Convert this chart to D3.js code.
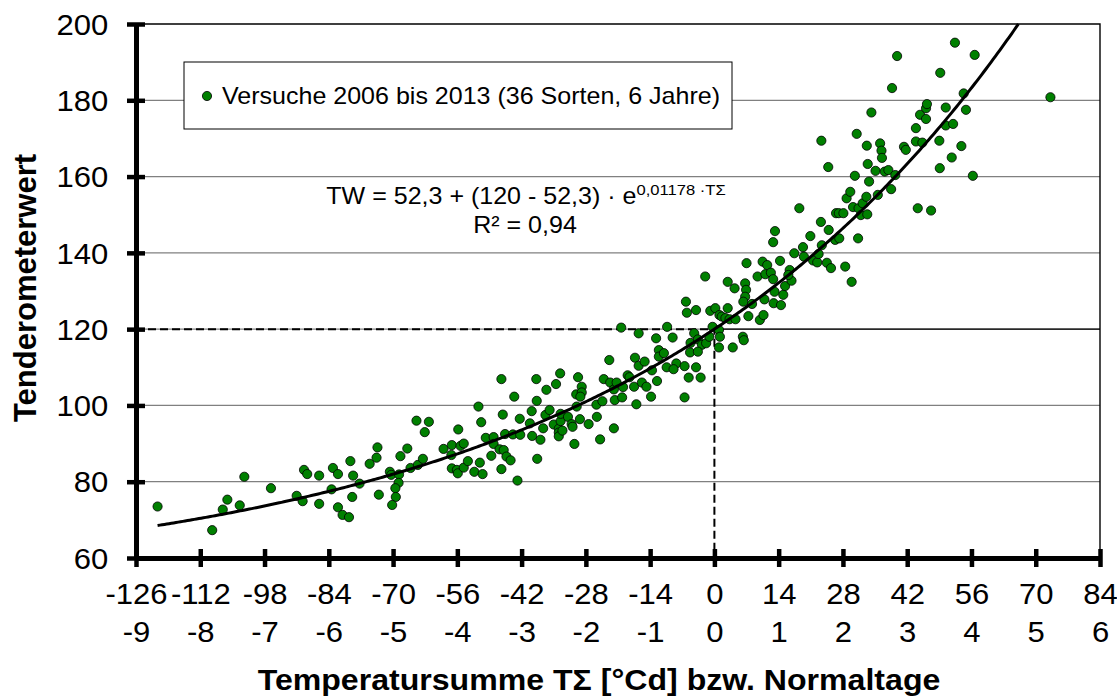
<!DOCTYPE html>
<html>
<head>
<meta charset="utf-8">
<script src="https://cdn.jsdelivr.net/npm/d3@7"></script>
<style>
body{margin:0;background:#fff;}
svg{display:block;font-family:"Liberation Sans",Arial,sans-serif;}
</style>
</head>
<body>
<svg width="1117" height="698"></svg>
<script>
// Temperatursumme TΣ [°Cd] of each trial point
const tempSum = [
 -121.3,-109.4,-107.1,-106.1,-103.4,-102.4,-96.6,-91.0,-89.7,-89.4,-88.7,-86.1,-86.1,-83.1,-82.0,-83.4,-82.0,-81.0,-79.6,-79.3,
 -78.7,-78.9,-77.3,-75.1,-73.6,-73.4,-73.1,-70.7,-70.4,-68.7,-68.8,-69.5,-69.4,-70.2,-68.4,-66.9,-66.2,-64.9,-64.6,
 -63.5,-63.1,-62.2,-59.0,-57.2,-55.8,-55.3,-54.6,-57.2,-57.3,-56.1,-55.9,-54.6,-53.7,-52.3,-51.4,-50.8,-51.1,-50.5,-49.8,
 -48.6,-48.1,-48.1,-46.4,-46.1,-46.8,-45.9,-46.4,-45.3,-44.4,-45.6,-43.6,-42.9,-43.9,-42.3,-42.4,-40.2,-39.8,-39.7,-38.8,
 -38.7,-38.6,-37.9,-37.3,-36.8,-36.6,-35.9,-34.5,-33.6,-35.0,-33.9,-33.9,-33.9,-33.1,-33.5,-33.5,-31.9,-31.1,-30.9,-30.5,
 -30.0,-30.1,-29.7,-29.3,-28.9,-28.9,-29.2,-27.4,-25.7,-25.6,-24.9,-24.4,-24.1,-22.9,-22.7,-21.9,-21.9,-21.7,-21.3,-20.3,
 -20.1,-19.9,-18.9,-18.5,-17.5,-17.3,-17.0,-16.5,-16.5,-15.8,-15.2,-14.8,-13.8,-13.6,-12.7,-12.5,-12.1,-12.1,
 -10.4,-8.3,-8.9,-6.5,-5.6,-4.0,-3.0,-6.5,1.0,
 -10.3,-9.1,-11.0,-6.2,-6.0,-4.0,-2.0,-5.2,-4.4,-3.6,-2.7,-5.3,-3.6,-1.8,-0.9,-0.4,-1.1,0.2,1.0,1.2,
 1.1,1.6,2.9,2.4,3.3,4.6,4.0,2.9,4.4,6.2,6.4,6.7,7.0,6.9,6.7,6.3,7.4,8.2,9.4,10.5,
 11.1,11.5,12.3,12.8,10.9,9.9,10.7,13.1,12.9,14.5,15.0,15.4,14.3,16.4,16.8,16.1,12.8,13.2,17.4,18.5,
 19.3,19.5,20.9,21.5,22.4,22.7,23.4,23.2,24.9,24.5,25.4,26.5,27.1,26.3,27.2,28.5,29.9,28.8,29.6,30.2,
 28.1,31.3,31.4,
 23.3,24.8,30.6,31.0,32.3,31.9,33.1,33.3,33.2,33.4,33.7,34.2,35.1,35.6,36.1,36.4,36.5,37.1,37.9,38.5,
 39.4,38.7,39.8,41.3,41.7,43.9,43.9,44.3,44.8,45.3,46.1,46.1,46.3,47.2,49.1,49.0,49.2,50.4,50.4,51.7,
 52.0,52.4,53.8,54.3,54.8,56.3,56.7,73.2
];
// Tenderometerwert of each trial point (same order)
const tenderometer = [
 73.5,67.3,72.7,75.3,73.8,81.3,78.3,76.3,74.9,83.1,82.0,81.6,74.2,83.6,82.0,78.0,73.3,71.3,70.7,85.4,
 81.6,76.0,79.5,84.7,86.3,89.0,76.6,82.6,81.8,81.9,79.7,78.3,76.0,73.9,86.7,88.7,83.6,96.0,84.4,
 86.0,93.0,95.7,88.6,89.6,93.7,89.4,90.0,83.5,87.0,83.1,82.2,83.7,85.4,82.6,99.7,95.6,85.0,82.0,91.5,
 86.8,91.7,89.9,106.9,97.6,88.5,88.3,83.3,86.6,85.6,92.5,102.3,80.3,92.4,92.3,96.5,95.3,98.5,92.0,106.9,
 101.2,86.0,91.0,94.0,97.5,104.1,98.8,105.6,108.4,95.0,93.9,92.9,91.9,93.4,95.9,97.8,97.0,95.1,94.4,89.9,
 99.7,102.9,107.4,96.4,104.9,103.4,102.3,95.1,100.2,97.0,91.1,101.1,106.9,111.9,106.0,104.2,94.0,101.4,106.0,120.4,
 102.1,104.8,107.9,107.4,104.9,112.5,100.3,110.4,118.9,106.0,111.5,104.9,102.3,109.2,117.6,106.4,114.5,112.8,
 110.0,111.0,109.5,110.3,107.3,110.0,107.3,102.1,115.2,
 120.6,117.8,113.7,127.2,124.3,125.0,133.8,116.4,118.9,117.3,115.9,113.9,114.1,116.3,124.8,120.6,118.0,125.5,119.8,118.0,
 123.7,123.3,125.5,122.9,122.6,122.6,115.2,132.4,130.7,118.0,117.1,132.0,137.3,130.3,128.5,127.2,123.4,126.6,133.8,137.7,
 134.4,136.8,134.8,133.1,127.8,122.4,123.7,129.8,126.8,126.3,129.0,131.3,137.9,135.5,132.7,134.2,142.8,145.7,139.9,151.7,
 141.5,139.0,144.4,138.0,137.5,139.7,142.0,148.1,146.0,137.4,136.0,150.4,150.4,143.4,143.8,136.4,132.4,154.3,156.0,152.0,
 150.4,143.8,151.7,
 169.4,162.5,160.2,171.2,153.0,149.9,154.7,150.1,168.1,163.3,158.7,176.8,161.5,155.2,168.7,166.8,164.9,161.3,161.7,156.7,
 160.4,183.2,191.6,167.8,167.0,169.2,172.7,151.7,176.2,168.9,177.9,175.1,179.0,151.1,162.2,169.4,187.2,178.1,173.4,165.0,
 173.8,195.1,168.0,181.8,177.5,160.2,191.9,180.8
];
const xTickValues = [-126,-112,-98,-84,-70,-56,-42,-28,-14,0,14,28,42,56,70,84];
const dayLabels = ["-9","-8","-7","-6","-5","-4","-3","-2","-1","0","1","2","3","4","5","6"];
const yTickValues = [60,80,100,120,140,160,180,200];
const legendLabel = "Versuche 2006 bis 2013 (36 Sorten, 6 Jahre)";
// fit: TW = 52,3 + (120 - 52,3) * exp(0,01178 * TΣ)
const fitBase = 52.3, fitRef = 120, fitRate = 0.01178, fitStart = -121.3;
const refT = 0, refTW = 120;

const svg = d3.select('svg');
const width = +svg.attr('width');
const height = +svg.attr('height');
const margin = {top:24, right:17, bottom:140, left:136};
const sx = 1.07; // text is a bit wider than tall in the original

const data = tempSum.map((t, i) => ({t: t, tw: tenderometer[i]}));

const xScale = d3.scaleLinear().domain([-126, 84]).range([margin.left, width - margin.right]);
const yScale = d3.scaleLinear().domain([60, 200]).range([height - margin.bottom, margin.top]);
const x0 = xScale.range()[0], x1 = xScale.range()[1];
const yTop = yScale.range()[1], yBot = yScale.range()[0];

// gridlines
svg.append('g').selectAll('line').data(yTickValues.filter(v => v > 60 && v < 200))
  .enter().append('line')
  .attr('x1', x0).attr('x2', x1)
  .attr('y1', d => yScale(d)).attr('y2', d => yScale(d))
  .attr('stroke', '#808080').attr('stroke-width', 1.2);

// plot frame top/right
svg.append('path')
  .attr('d', `M${x0},${yTop}H${x1}V${yBot}`)
  .attr('fill', 'none').attr('stroke', '#000').attr('stroke-width', 1.4);

// reference lines at 120 / 0
svg.append('line')
  .attr('x1', xScale(refT)).attr('x2', x1)
  .attr('y1', yScale(refTW)).attr('y2', yScale(refTW))
  .attr('stroke', '#000').attr('stroke-width', 1.2);
svg.append('path')
  .attr('d', `M${x0},${yScale(refTW)}H${xScale(refT)}V${yBot}`)
  .attr('fill', 'none').attr('stroke', '#000').attr('stroke-width', 2)
  .attr('stroke-dasharray', '8,4');

// points
svg.append('g').selectAll('circle').data(data)
  .enter().append('circle')
  .attr('cx', d => xScale(d.t))
  .attr('cy', d => yScale(d.tw))
  .attr('r', 4.6)
  .attr('fill', '#008000')
  .attr('stroke', '#000').attr('stroke-width', 0.8);

// fit curve
const fitEnd = Math.log((200 - fitBase) / (fitRef - fitBase)) / fitRate;
const curve = d3.range(fitStart, fitEnd, 0.5).concat([fitEnd])
  .map(t => ({t: t, tw: fitBase + (fitRef - fitBase) * Math.exp(fitRate * t)}));
svg.append('path').datum(curve)
  .attr('d', d3.line().x(d => xScale(d.t)).y(d => yScale(d.tw)))
  .attr('fill', 'none').attr('stroke', '#000').attr('stroke-width', 3);

// axes
const yAxis = d3.axisLeft(yScale).tickValues(yTickValues).tickSize(9).tickSizeOuter(0).tickPadding(17);
const gy = svg.append('g').attr('transform', `translate(${x0},0)`).call(yAxis);
gy.select('.domain').attr('stroke-width', 5);
gy.selectAll('.tick line').attr('x1', 9).attr('stroke-width', 4.5);
gy.selectAll('.tick text').attr('font-size', 29).attr('font-family', null).attr('dy', '0.35em')
  .attr('transform', `scale(${sx},1)`).attr('fill', '#000');

const xAxis = d3.axisBottom(xScale).tickValues(xTickValues).tickSize(9).tickSizeOuter(0).tickPadding(16)
  .tickFormat(d => String(d));
const gx = svg.append('g').attr('transform', `translate(0,${yBot})`).call(xAxis);
gx.select('.domain').attr('stroke-width', 5);
gx.selectAll('.tick line').attr('y1', -9).attr('stroke-width', 4.5);
gx.selectAll('.tick text').attr('font-size', 29).attr('font-family', null)
  .attr('transform', `scale(${sx},1)`).attr('fill', '#000');

const dayAxis = d3.axisBottom(xScale).tickValues(xTickValues).tickSize(0).tickPadding(63)
  .tickFormat((d, i) => dayLabels[i]);
const gd = svg.append('g').attr('transform', `translate(0,${yBot})`).call(dayAxis);
gd.select('.domain').remove();
gd.selectAll('.tick text').attr('font-size', 29).attr('font-family', null)
  .attr('transform', `scale(${sx},1)`).attr('fill', '#000');

// axis titles
svg.append('text')
  .attr('transform', `translate(599,690) scale(${sx},1)`)
  .attr('text-anchor', 'middle').attr('font-size', 30).attr('font-weight', 'bold')
  .text('Temperatursumme TΣ [°Cd] bzw. Normaltage');
svg.append('text')
  .attr('transform', 'translate(36,288) rotate(-90)')
  .attr('text-anchor', 'middle').attr('font-size', 31).attr('font-weight', 'bold')
  .text('Tenderometerwert');

// legend
const legend = svg.append('g');
legend.append('rect').attr('x', 184).attr('y', 62).attr('width', 548).attr('height', 67)
  .attr('fill', '#fff').attr('stroke', '#000').attr('stroke-width', 1);
legend.append('circle').attr('cx', 207).attr('cy', 96).attr('r', 4.6)
  .attr('fill', '#008000').attr('stroke', '#000').attr('stroke-width', 0.8);
legend.append('text').attr('transform', `translate(222,104) scale(${sx},1)`)
  .attr('font-size', 23.4).text(legendLabel);

// equation
const eq = svg.append('text').attr('transform', `translate(526,204) scale(${sx},1)`)
  .attr('text-anchor', 'middle').attr('font-size', 23.4);
eq.append('tspan').text('TW = 52,3 + (120 - 52,3) · e');
eq.append('tspan').attr('dy', -9).attr('font-size', 15.5).text('0,01178 ·TΣ');
svg.append('text').attr('transform', `translate(525,233) scale(${sx},1)`)
  .attr('text-anchor', 'middle').attr('font-size', 23.4).text('R² = 0,94');
</script>
</body>
</html>
